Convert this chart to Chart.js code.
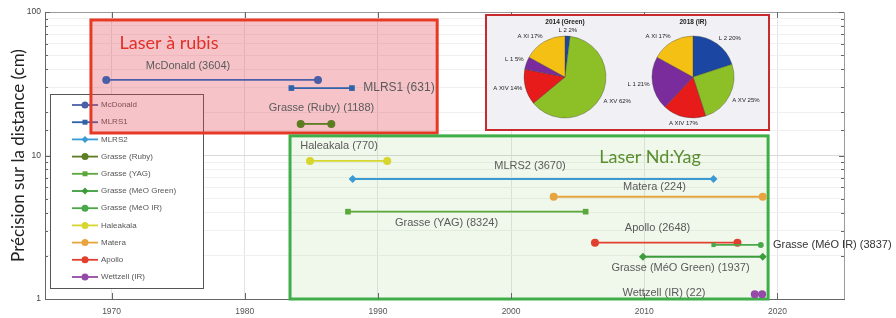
<!DOCTYPE html>
<html>
<head>
<meta charset="utf-8">
<script src="https://cdn.jsdelivr.net/npm/chart.js@4.4.0/dist/chart.umd.min.js"></script>
<style>
    html, body { margin: 0; padding: 0; background: #fff; }
    #wrap { position: relative; width: 896px; height: 318px; }
    #main { position: absolute; left: 0; top: 0; }
    #inset { position: absolute; left: 485px; top: 14px; width: 281px; height: 113px; border: 2px solid #c92a2e; background: #f1f1f5; }
    #pie1, #pie2 { position: absolute; top: 12px; }
    #pie1 { left: 475px; }
    #pie2 { left: 603px; }
</style>
</head>
<body>
<div id="wrap">
    <canvas id="main" width="896" height="318"></canvas>
    <div id="inset"></div>
    <canvas id="pie1" width="180" height="130"></canvas>
    <canvas id="pie2" width="180" height="130"></canvas>
</div>
<script>
// stations (legend order)
const STATIONS = ['McDonald', 'MLRS1', 'MLRS2', 'Grasse (Ruby)', 'Grasse (YAG)', 'Grasse (MéO Green)',
    'Grasse (MéO IR)', 'Haleakala', 'Matera', 'Apollo', 'Wettzell (IR)'];
const START_YEAR = [1969.6, 1983.5, 1988.1, 1984.2, 1987.75, 2009.9, 2015.2, 1984.9, 2003.2, 2006.3, 2018.3];
const END_YEAR = [1985.5, 1988.05, 2015.2, 1986.5, 2005.6, 2018.9, 2018.75, 1990.7, 2018.9, 2017.0, 2018.85];
const PRECISION = [33.6, 29.5, 6.86, 16.6, 4.06, 1.97, 2.38, 9.16, 5.16, 2.47, 1.08]; // cm
const COUNTS = [3604, 631, 3670, 1188, 8324, 1937, 3837, 770, 224, 2648, 22];

const X_TICKS = [1970, 1980, 1990, 2000, 2010, 2020];
const Y_LABELS = [1, 10, 100];

// pies
const PIE_TITLES = ['2014 (Green)', '2018 (IR)'];
const PIE_LABELS = ['L 2', 'A XV', 'A XIV', 'L 1', 'A XI'];
const PIE_2014 = [2, 62, 14, 5, 17];
const PIE_2018 = [20, 25, 17, 21, 17];

// styles
const COLORS = ['#4a5fa8', '#2f62a8', '#3a9ad3', '#5e7c22', '#5aa83a', '#3c9c3c',
    '#4aa84a', '#d6d62e', '#e8a43e', '#e2402e', '#944aa6'];
const MARKERS = ['circle', 'rect', 'rectRot', 'circle', 'rect', 'rectRot',
    'circle', 'circle', 'circle', 'circle', 'circle'];
const PIE_COLORS = ['#1b47a3', '#8dbf26', '#e81b1b', '#7a2c9c', '#f5c014'];

// position des etiquettes (annee, cm)
const LABEL_POS = [[1975.74, 42.0], [1991.58, 29.5], [2001.42, 8.49], [1985.76, 21.4], [1995.15, 3.40],
    [2012.72, 1.64], [2019.67, 2.38], [1987.08, 11.7], [2010.77, 6.06], [2011.0, 3.14], [2011.48, 1.10]];

// zones laser
const ZONES = [
    { name: 'Laser à rubis', x: [1968.45, 1994.45], y: [14.35, 88], at: [1974.31, 60.8],
      fill: 'rgba(228,70,85,0.32)', stroke: '#e63a26', text: '#e0302a' },
    { name: 'Laser Nd:Yag', x: [1983.4, 2019.3], y: [1.0, 13.7], at: [2010.43, 9.76],
      fill: 'rgba(140,200,110,0.13)', stroke: '#3fae49', text: '#5b8e2e' }
];

Chart.defaults.font.family = '"Liberation Sans", Arial, sans-serif';

let datasets = STATIONS.map((s, i) => ({
    label: s,
    data: [{ x: START_YEAR[i], y: PRECISION[i] }, { x: END_YEAR[i], y: PRECISION[i] }],
    showLine: true,
    borderColor: COLORS[i],
    backgroundColor: COLORS[i],
    borderWidth: 1.8,
    pointStyle: i === 6 ? ['rect', 'circle'] : MARKERS[i],
    pointRadius: i === 6 ? 3 : 4,
    pointBorderWidth: 0
}));

// legende + zones derriere les courbes
const backPlugin = {
    id: 'back',
    beforeDatasetsDraw(chart) {
        const c = chart.ctx;
        const xs = chart.scales.x, ys = chart.scales.y;
        c.save();
        // legende
        c.fillStyle = '#fff';
        c.fillRect(50, 94, 153, 194);
        c.strokeStyle = '#555';
        c.lineWidth = 1;
        c.strokeRect(50.5, 94.5, 153, 194);
        STATIONS.forEach((s, i) => {
            let y = 105 + i * 17.2;
            c.strokeStyle = COLORS[i];
            c.lineWidth = 1.8;
            c.beginPath(); c.moveTo(72, y); c.lineTo(98, y); c.stroke();
            c.fillStyle = COLORS[i];
            Chart.helpers.drawPoint(c, { pointStyle: MARKERS[i], radius: 3.5, borderWidth: 0 }, 85, y);
            c.fillStyle = '#555';
            c.font = '8px "Liberation Sans", Arial';
            c.textAlign = 'left';
            c.textBaseline = 'middle';
            c.fillText(s, 101, y);
        });
        // zones
        ZONES.forEach(z => {
            let x0 = xs.getPixelForValue(z.x[0]), x1 = xs.getPixelForValue(z.x[1]);
            let y0 = ys.getPixelForValue(z.y[1]), y1 = ys.getPixelForValue(z.y[0]);
            c.fillStyle = z.fill;
            c.fillRect(x0, y0, x1 - x0, y1 - y0);
            c.strokeStyle = z.stroke;
            c.lineWidth = 3;
            c.strokeRect(x0, y0, x1 - x0, y1 - y0);
        });
        c.restore();
    },
    afterDatasetsDraw(chart) {
        const c = chart.ctx;
        const xs = chart.scales.x, ys = chart.scales.y;
        c.save();
        c.textBaseline = 'middle';
        ZONES.forEach(z => {
            c.fillStyle = z.text;
            c.font = '18px Lato, "Open Sans", sans-serif';
            c.textAlign = 'center';
            c.fillText(z.name, xs.getPixelForValue(z.at[0]), ys.getPixelForValue(z.at[1]));
        });
        STATIONS.forEach((s, i) => {
            let txt = s + ' (' + COUNTS[i] + ')';
            let px = xs.getPixelForValue(LABEL_POS[i][0]);
            let py = ys.getPixelForValue(LABEL_POS[i][1]);
            if (i === 6) {
                c.textAlign = 'left';
                c.fillStyle = '#333';
                c.font = '11px "Liberation Sans", Arial';
            } else {
                c.textAlign = 'center';
                c.fillStyle = '#5a5a5a';
                c.font = (i === 1 ? '12px' : '11px') + ' "Liberation Sans", Arial';
            }
            c.fillText(txt, px, py);
        });
        c.restore();
    },
    afterDraw(chart) {
        // cadre et petites graduations
        const c = chart.ctx;
        const a = chart.chartArea;
        c.save();
        c.strokeStyle = '#9a9a9a';
        c.lineWidth = 1;
        c.beginPath();
        c.moveTo(a.left, a.top + 0.5); c.lineTo(a.right + 0.5, a.top + 0.5); c.lineTo(a.right + 0.5, a.bottom);
        c.stroke();
        c.strokeStyle = '#666';
        c.beginPath();
        chart.scales.y.ticks.forEach(t => {
            let y = Math.round(chart.scales.y.getPixelForValue(t.value)) + 0.5;
            let len = Y_LABELS.includes(t.value) ? 5 : 3;
            c.moveTo(a.left, y); c.lineTo(a.left + len, y);
            c.moveTo(a.right, y); c.lineTo(a.right - len, y);
        });
        X_TICKS.forEach(v => {
            let x = Math.round(chart.scales.x.getPixelForValue(v)) + 0.5;
            c.moveTo(x, a.bottom); c.lineTo(x, a.bottom - 6);
            c.moveTo(x, a.top); c.lineTo(x, a.top + 6);
        });
        c.stroke();
        c.restore();
    }
};

new Chart(document.getElementById('main'), {
    type: 'scatter',
    data: { datasets: datasets },
    options: {
        responsive: false,
        animation: false,
        devicePixelRatio: 1,
        events: [],
        layout: { padding: { top: 12, right: 52, left: 0, bottom: 0 } },
        plugins: { legend: { display: false }, tooltip: { enabled: false } },
        scales: {
            x: {
                type: 'linear',
                min: 1965,
                max: 2025,
                afterFit: s => { s.height = 19; },
                afterBuildTicks: s => { s.ticks = X_TICKS.map(v => ({ value: v })); },
                grid: { color: '#e4e4e4', drawTicks: false },
                border: { color: '#666' },
                ticks: { padding: 8, color: '#555', font: { size: 8.5 }, callback: v => String(v) }
            },
            y: {
                type: 'logarithmic',
                min: 1,
                max: 100,
                afterFit: s => { s.width = 45; },
                grid: {
                    drawTicks: false,
                    color: ctx => Y_LABELS.includes(ctx.tick.value) ? '#dadada' : '#f0f0f0'
                },
                border: { color: '#666' },
                ticks: {
                    autoSkip: false, padding: 4, color: '#444', font: { size: 8.5 },
                    callback: v => Y_LABELS.includes(v) ? String(v) : ''
                },
                title: {
                    display: true,
                    text: 'Précision sur la distance (cm)',
                    color: '#222',
                    font: { size: 17, family: 'Lato, "Open Sans", sans-serif' },
                    padding: { top: 8, bottom: 0 }
                }
            }
        }
    },
    plugins: [backPlugin]
});

// camemberts
const pieText = {
    id: 'pieText',
    afterDraw(chart) {
        const c = chart.ctx;
        const meta = chart.getDatasetMeta(0);
        const vals = chart.data.datasets[0].data;
        c.save();
        c.fillStyle = '#222';
        c.font = 'bold 6.5px "Liberation Sans", Arial';
        c.textAlign = 'center';
        c.textBaseline = 'middle';
        let a0 = meta.data[0];
        c.fillText(chart.options.plugins.pieTitle.text, a0.x, a0.y - 55);
        c.font = '6px "Liberation Sans", Arial';
        meta.data.forEach((arc, i) => {
            let mid = (arc.startAngle + arc.endAngle) / 2;
            let dx = Math.cos(mid), dy = Math.sin(mid);
            let r = arc.outerRadius + 3;
            c.textAlign = dx > 0.25 ? 'left' : dx < -0.25 ? 'right' : 'center';
            c.textBaseline = dy < -0.3 ? 'bottom' : dy > 0.3 ? 'top' : 'middle';
            c.fillText(chart.data.labels[i] + ' ' + vals[i] + '%', arc.x + dx * r, arc.y + dy * r);
        });
        c.restore();
    }
};

function makePie(id, title, vals) {
    new Chart(document.getElementById(id), {
        type: 'pie',
        data: {
            labels: PIE_LABELS,
            datasets: [{
                data: vals,
                backgroundColor: PIE_COLORS,
                borderColor: 'rgba(60,60,60,0.6)',
                borderWidth: 0.6,
                radius: 41
            }]
        },
        options: {
            responsive: false,
            animation: false,
            devicePixelRatio: 1,
            events: [],
            layout: { padding: 0 },
            plugins: { legend: { display: false }, tooltip: { enabled: false }, pieTitle: { text: title } }
        },
        plugins: [pieText]
    });
}
makePie('pie1', PIE_TITLES[0], PIE_2014);
makePie('pie2', PIE_TITLES[1], PIE_2018);
</script>
</body>
</html>
